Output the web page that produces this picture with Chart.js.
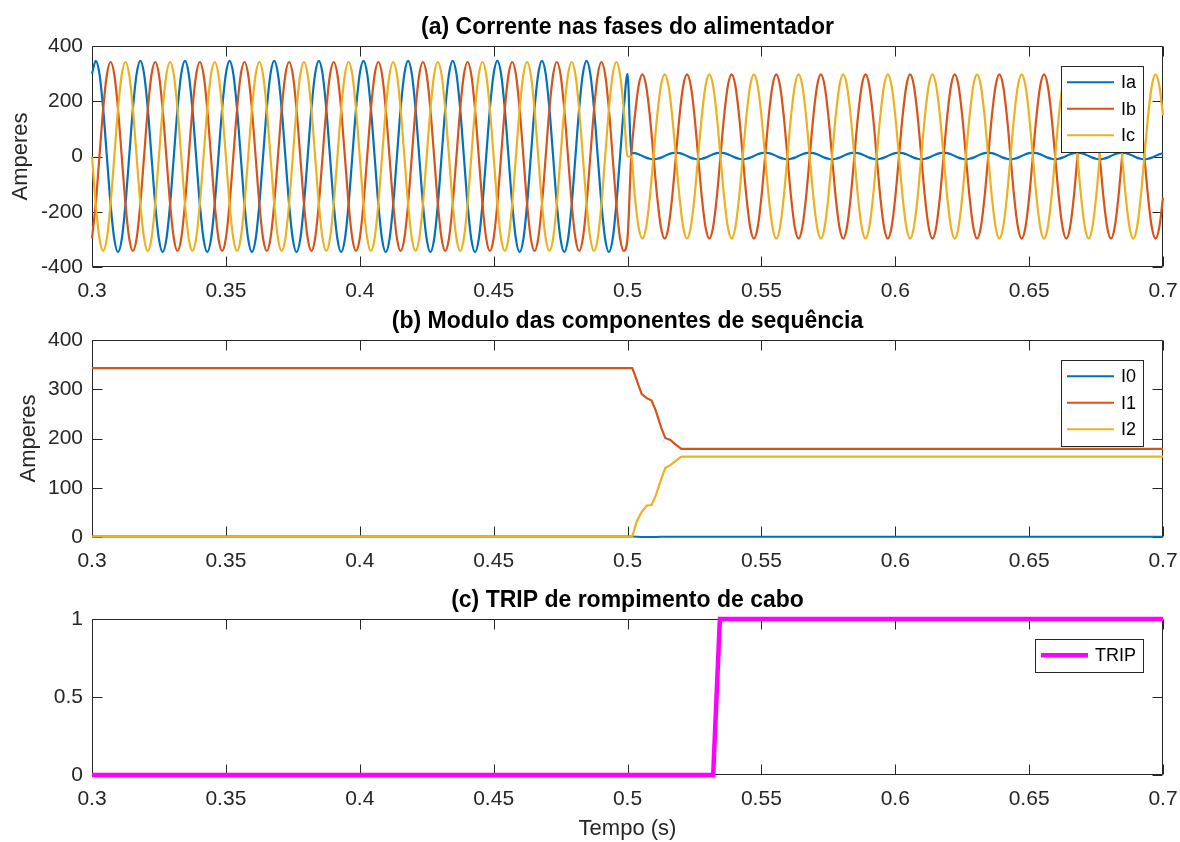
<!DOCTYPE html>
<html>
<head>
<meta charset="utf-8">
<script src="https://cdn.jsdelivr.net/npm/chart.js@4.4.0/dist/chart.umd.min.js"></script>
<style>
  body { margin: 0; background: #fff; }
  #fig { position: relative; width: 1180px; height: 842px; }
  .panel { position: absolute; left: 0; width: 1180px; }
</style>
</head>
<body>
<div id="fig">
  <div class="panel" style="top:0;height:300px"><canvas id="phases"></canvas></div>
  <div class="panel" style="top:300px;height:270px"><canvas id="sequence"></canvas></div>
  <div class="panel" style="top:570px;height:272px"><canvas id="trip"></canvas></div>
</div>
<script>
// sampling of the phase currents: 60 Hz, one point every 30 degrees
const tStart = 0.3;
const tFault = 0.5;
const tEnd = 0.7;
const freq = 60;
const samplesPerCycle = 12;

// one cycle of each phase current (A) before and after the cable break
const iaBefore = [299, 346, 299, 173, 0, -173, -299, -346, -299, -173, 0, 173];
const ibBefore = [-296, -171, 0, 171, 296, 342, 296, 171, 0, -171, -296, -342];
const icBefore = [0, -171, -296, -342, -296, -171, 0, 171, 296, 342, 296, 171];
const iaAfter = [12, 14, 12, 8, 2, -4, -8, -10, -8, -4, 2, 8];
const ibAfter = [-149, 0, 149, 257, 297, 257, 149, 0, -149, -257, -297, -257];
const icAfter = [149, 0, -149, -257, -297, -257, -149, 0, 149, 257, 297, 257];

// sequence component magnitudes (A)
const tSeq = [0.3, 0.5018, 0.5034, 0.5053, 0.5072, 0.5090, 0.5106, 0.5125, 0.5141, 0.5160, 0.5179, 0.5201, 0.7];
const i0 = [1, 1, 0.5, 0, 0, 0, 0, 0.5, 0.5, 0.5, 0.5, 0.5, 0.5];
const i1 = [343, 343, 319, 290, 282, 277, 256, 223, 201, 197, 188, 179, 179];
const i2 = [1, 1, 31, 51, 64, 65, 85, 116, 140, 146, 154, 163, 163];

// trip signal
const tTrip = [0.3, 0.532, 0.5345, 0.7];
const trip = [0, 0, 1, 1];

const timeTicks = [0.3, 0.35, 0.4, 0.45, 0.5, 0.55, 0.6, 0.65, 0.7];
const phaseTicks = [-400, -200, 0, 200, 400];
const seqTicks = [0, 100, 200, 300, 400];
const tripTicks = [0, 0.5, 1];

const textColor = '#262626';
const family = '"Liberation Sans", Arial, Helvetica, sans-serif';

function phaseSeries(before, after) {
  const n = Math.round((tEnd - tStart) * freq * samplesPerCycle);
  const kFault = Math.round((tFault - tStart) * freq * samplesPerCycle);
  const pts = [];
  for (let k = 0; k <= n; k++) {
    const cycle = k <= kFault ? before : after;
    pts.push({ x: tStart + k / (freq * samplesPerCycle), y: cycle[k % samplesPerCycle] });
  }
  return pts;
}

function toPoints(xs, ys) {
  return xs.map((x, i) => ({ x: x, y: ys[i] }));
}

// box with inward ticks, panel title and a framed legend in the upper right
const figureAxes = {
  id: 'figureAxes',
  beforeDatasetsDraw(chart) {
    const { ctx, chartArea: a } = chart;
    const xs = chart.scales.x, ys = chart.scales.y;
    const L = a.left + 0.5, R = a.right - 0.5, T = a.top + 0.5, B = a.bottom - 0.5;
    ctx.save();
    ctx.strokeStyle = textColor;
    ctx.lineWidth = 1;
    ctx.beginPath();
    ctx.rect(L, T, R - L, B - T);
    xs.ticks.forEach(t => {
      const x = Math.round(xs.getPixelForValue(t.value)) + 0.5;
      ctx.moveTo(x, B); ctx.lineTo(x, B - 10);
      ctx.moveTo(x, T); ctx.lineTo(x, T + 10);
    });
    ys.ticks.forEach(t => {
      const y = Math.round(ys.getPixelForValue(t.value)) + 0.5;
      ctx.moveTo(L, y); ctx.lineTo(L + 10, y);
      ctx.moveTo(R, y); ctx.lineTo(R - 10, y);
    });
    ctx.stroke();
    ctx.restore();
  },
  afterDraw(chart, args, opts) {
    const { ctx, chartArea: a } = chart;
    ctx.save();
    ctx.fillStyle = '#000';
    ctx.font = 'bold 23px ' + family;
    ctx.textAlign = 'center';
    ctx.textBaseline = 'alphabetic';
    ctx.fillText(opts.title, (a.left + a.right) / 2, a.top - 12);

    const sets = chart.data.datasets;
    ctx.font = '18px ' + family;
    const textW = Math.max(...sets.map(d => ctx.measureText(d.label).width));
    const w = Math.round(6 + 47 + 7 + textW + 7);
    const h = Math.round(sets.length * 26.5 + 6);
    const bx = Math.round(a.right - 20 - w), by = Math.round(a.top + 20);
    ctx.fillStyle = '#fff';
    ctx.fillRect(bx, by, w, h);
    ctx.strokeStyle = textColor;
    ctx.lineWidth = 1;
    ctx.strokeRect(bx + 0.5, by + 0.5, w, h);
    ctx.textAlign = 'left';
    ctx.textBaseline = 'middle';
    sets.forEach((d, i) => {
      const y = by + 3 + 26.5 * (i + 0.5);
      ctx.strokeStyle = d.borderColor;
      ctx.lineWidth = d.borderWidth;
      ctx.beginPath();
      ctx.moveTo(bx + 6, y);
      ctx.lineTo(bx + 53, y);
      ctx.stroke();
      ctx.fillStyle = '#000';
      ctx.fillText(d.label, bx + 60, y + 1);
    });
    ctx.restore();
  }
};

function timeAxis(height, title) {
  return {
    type: 'linear',
    min: 0.3,
    max: 0.7,
    afterBuildTicks: s => { s.ticks = timeTicks.map(v => ({ value: v })); },
    afterFit: s => { s.height = height; s.paddingLeft = 0; s.paddingRight = 0; },
    grid: { display: false, drawTicks: false },
    border: { display: false },
    ticks: { color: textColor, font: { family: family, size: 21 }, padding: 12, maxRotation: 0, autoSkip: false, callback: v => String(v) },
    title: { display: !!title, text: title, color: textColor, font: { family: family, size: 22 }, padding: { top: 0, bottom: 0 } }
  };
}

function valueAxis(min, max, ticks, title, titlePad) {
  return {
    type: 'linear',
    min: min,
    max: max,
    afterBuildTicks: s => { s.ticks = ticks.map(v => ({ value: v })); },
    afterFit: s => { s.width = 92; s.paddingTop = 0; s.paddingBottom = 0; },
    grid: { display: false, drawTicks: false },
    border: { display: false },
    ticks: { color: textColor, font: { family: family, size: 21 }, padding: 9, callback: v => String(v) },
    title: { display: !!title, text: title, color: textColor, font: { family: family, size: 22 }, padding: { top: titlePad, bottom: 0 } }
  };
}

function baseOptions(padTop, xHeight, yAxis, title, xTitle) {
  return {
    responsive: true,
    maintainAspectRatio: false,
    animation: false,
    events: [],
    layout: { padding: { top: padTop, right: 17, bottom: 0, left: 0 } },
    scales: { x: timeAxis(xHeight, xTitle), y: yAxis },
    plugins: {
      legend: { display: false },
      tooltip: { enabled: false },
      figureAxes: { title: title }
    }
  };
}

function line(label, data, color, width, order, smooth) {
  return {
    label: label,
    data: data,
    borderColor: color,
    backgroundColor: color,
    borderWidth: width,
    pointRadius: 0,
    fill: false,
    order: order,
    clip: 6,
    cubicInterpolationMode: smooth ? 'monotone' : 'default',
    tension: 0
  };
}

new Chart(document.getElementById('phases'), {
  type: 'line',
  data: {
    datasets: [
      line('Ia', phaseSeries(iaBefore, iaAfter), '#0072BD', 2.2, 2, true),
      line('Ib', phaseSeries(ibBefore, ibAfter), '#D95319', 2.2, 1, true),
      line('Ic', phaseSeries(icBefore, icAfter), '#EDB120', 2.2, 0, true)
    ]
  },
  options: baseOptions(46, 33, valueAxis(-400, 400, phaseTicks, 'Amperes', 8), '(a) Corrente nas fases do alimentador'),
  plugins: [figureAxes]
});

new Chart(document.getElementById('sequence'), {
  type: 'line',
  data: {
    datasets: [
      line('I0', toPoints(tSeq, i0), '#0072BD', 2.2, 2, false),
      line('I1', toPoints(tSeq, i1), '#D95319', 2.2, 1, false),
      line('I2', toPoints(tSeq, i2), '#EDB120', 2.2, 0, false)
    ]
  },
  options: baseOptions(40, 33, valueAxis(0, 400, seqTicks, 'Amperes', 16), '(b) Modulo das componentes de sequência'),
  plugins: [figureAxes]
});

new Chart(document.getElementById('trip'), {
  type: 'line',
  data: {
    datasets: [
      line('TRIP', toPoints(tTrip, trip), '#FF00FF', 4.5, 0, false)
    ]
  },
  options: baseOptions(49, 67, valueAxis(0, 1, tripTicks, '', 0), '(c) TRIP de rompimento de cabo', 'Tempo (s)'),
  plugins: [figureAxes]
});
</script>
</body>
</html>
